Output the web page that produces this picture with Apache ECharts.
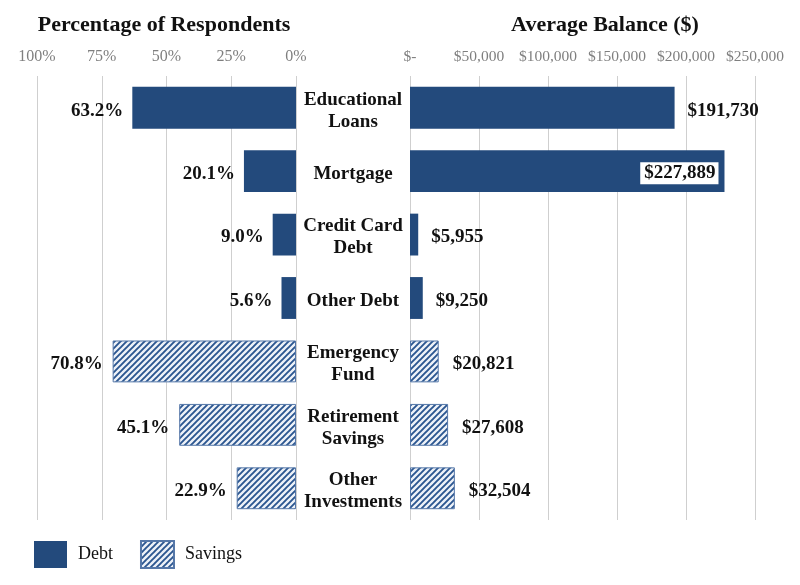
<!DOCTYPE html>
<html>
<head>
<meta charset="utf-8">
<script src="https://cdn.jsdelivr.net/npm/echarts@6/dist/echarts.min.js"></script>
<style>html,body{margin:0;padding:0;background:#fff}#c{width:800px;height:585px}</style>
</head>
<body>
<div id="c"></div>
<script>
// ---- data ----
const categories = ['Educational Loans','Mortgage','Credit Card Debt','Other Debt','Emergency Fund','Retirement Savings','Other Investments'];
const categoryLabels = ['Educational\nLoans','Mortgage','Credit Card\nDebt','Other Debt','Emergency\nFund','Retirement\nSavings','Other\nInvestments'];
const groupType = ['Debt','Debt','Debt','Debt','Savings','Savings','Savings'];
const percentRespondents = [63.2, 20.1, 9.0, 5.6, 70.8, 45.1, 22.9];
const averageBalance = [191730, 227889, 5955, 9250, 20821, 27608, 32504];
const pctTicks = [0, 25, 50, 75, 100];
const balTicks = [0, 50000, 100000, 150000, 200000, 250000];

const FONT = 'Liberation Serif';
const NAVY = '#234a7c';

// stripe pattern for savings
function makePattern() {
  const s = 6;
  const cv = document.createElement('canvas');
  cv.width = s; cv.height = s;
  const g = cv.getContext('2d');
  g.fillStyle = '#eef2f8';
  g.fillRect(0, 0, s, s);
  g.strokeStyle = '#2b5690';
  g.lineWidth = 1.9;
  g.beginPath();
  g.moveTo(-1, s + 1); g.lineTo(s + 1, -1);
  g.moveTo(-1, 1); g.lineTo(1, -1);
  g.moveTo(s - 1, s + 1); g.lineTo(s + 1, s - 1);
  g.stroke();
  return cv;
}
const stripe = { image: makePattern(), repeat: 'repeat' };

function pick(arr, type) {
  return arr.map((v, i) => groupType[i] === type ? v : '-');
}
function money(v) {
  return '$' + Math.round(v).toLocaleString('en-US');
}

const valueLabelStyle = { fontFamily: FONT, fontWeight: 'bold', fontSize: 19, color: '#111', offset: [0, 3] };

const rightDebtData = pick(averageBalance, 'Debt').map((v, i) => {
  if (v === '-') return v;
  if (i === 1) {
    return { value: v, label: { position: 'insideRight', distance: 6, backgroundColor: '#fff', padding: [2, 3, 1, 4], offset: [0, 2] } };
  }
  return v;
});

const chart = echarts.init(document.getElementById('c'), null, { renderer: 'canvas' });
chart.setOption({
  animation: false,
  backgroundColor: '#fff',
  title: [
    { text: 'Percentage of Respondents', left: 159, top: 9, textAlign: 'center',
      textStyle: { fontFamily: FONT, fontWeight: 'bold', fontSize: 22, color: '#111' } },
    { text: 'Average Balance ($)', left: 600, top: 9, textAlign: 'center',
      textStyle: { fontFamily: FONT, fontWeight: 'bold', fontSize: 22, color: '#111' } }
  ],
  legend: {
    left: 29, top: 535, itemWidth: 33, itemHeight: 27, itemGap: 27,
    icon: 'rect',
    data: ['Debt', 'Savings'],
    textStyle: { fontFamily: FONT, fontSize: 18, color: '#111', padding: [3, 0, 0, 6] }
  },
  grid: [
    { left: 37, width: 259, top: 76, height: 444 },
    { left: 410, width: 345, top: 76, height: 444 },
    { left: 410, width: 345, top: 79, height: 444 }
  ],
  xAxis: [
    { type: 'value', gridIndex: 0, min: 0, max: 100, interval: 25, inverse: true, position: 'top',
      axisLine: { show: false }, axisTick: { show: false },
      splitLine: { lineStyle: { color: '#cfcfcf', width: 1 } },
      axisLabel: { formatter: v => v + '%', color: '#7f7f7f', fontFamily: FONT, fontSize: 16, margin: 11 } },
    { type: 'value', gridIndex: 1, min: 0, max: 250000, interval: 50000, position: 'top',
      axisLine: { show: false }, axisTick: { show: false },
      splitLine: { lineStyle: { color: '#cfcfcf', width: 1 } },
      axisLabel: { formatter: v => v === 0 ? '$-' : money(v), color: '#7f7f7f', fontFamily: FONT, fontSize: 15.5, margin: 11 } },
    { type: 'value', gridIndex: 2, min: 0, max: 250000, show: false }
  ],
  yAxis: [
    { type: 'category', gridIndex: 0, data: categories, inverse: true,
      axisLine: { show: false }, axisTick: { show: false }, axisLabel: { show: false } },
    { type: 'category', gridIndex: 1, data: categories, inverse: true,
      axisLine: { show: false }, axisTick: { show: false }, axisLabel: { show: false } },
    { type: 'category', gridIndex: 2, data: categories, inverse: true,
      axisLine: { show: false }, axisTick: { show: false }, splitLine: { show: false },
      axisLabel: { show: true, align: 'center', margin: 57, fontFamily: FONT, fontWeight: 'bold', fontSize: 19,
        lineHeight: 22, color: '#111', formatter: (v) => categoryLabels[categories.indexOf(v)] } }
  ],
  series: [
    { name: 'Debt', type: 'bar', xAxisIndex: 0, yAxisIndex: 0, stack: 'L', barCategoryGap: '34%',
      data: pick(percentRespondents, 'Debt'),
      itemStyle: { color: NAVY },
      label: Object.assign({ show: true, position: 'left', distance: 9, formatter: p => p.value.toFixed(1) + '%' }, valueLabelStyle) },
    { name: 'Savings', type: 'bar', xAxisIndex: 0, yAxisIndex: 0, stack: 'L', barCategoryGap: '34%',
      data: pick(percentRespondents, 'Savings'),
      itemStyle: { color: stripe, borderColor: '#5577a8', borderWidth: 1 },
      label: Object.assign({ show: true, position: 'left', distance: 10, formatter: p => p.value.toFixed(1) + '%' }, valueLabelStyle) },
    { name: 'Debt', type: 'bar', xAxisIndex: 1, yAxisIndex: 1, stack: 'R', barCategoryGap: '34%',
      data: rightDebtData,
      itemStyle: { color: NAVY },
      label: Object.assign({ show: true, position: 'right', distance: 13, formatter: p => money(p.value) }, valueLabelStyle) },
    { name: 'Savings', type: 'bar', xAxisIndex: 1, yAxisIndex: 1, stack: 'R', barCategoryGap: '34%',
      data: pick(averageBalance, 'Savings'),
      itemStyle: { color: stripe, borderColor: '#5577a8', borderWidth: 1 },
      label: Object.assign({ show: true, position: 'right', distance: 14, formatter: p => money(p.value) }, valueLabelStyle) }
  ]
});
</script>
</body>
</html>
